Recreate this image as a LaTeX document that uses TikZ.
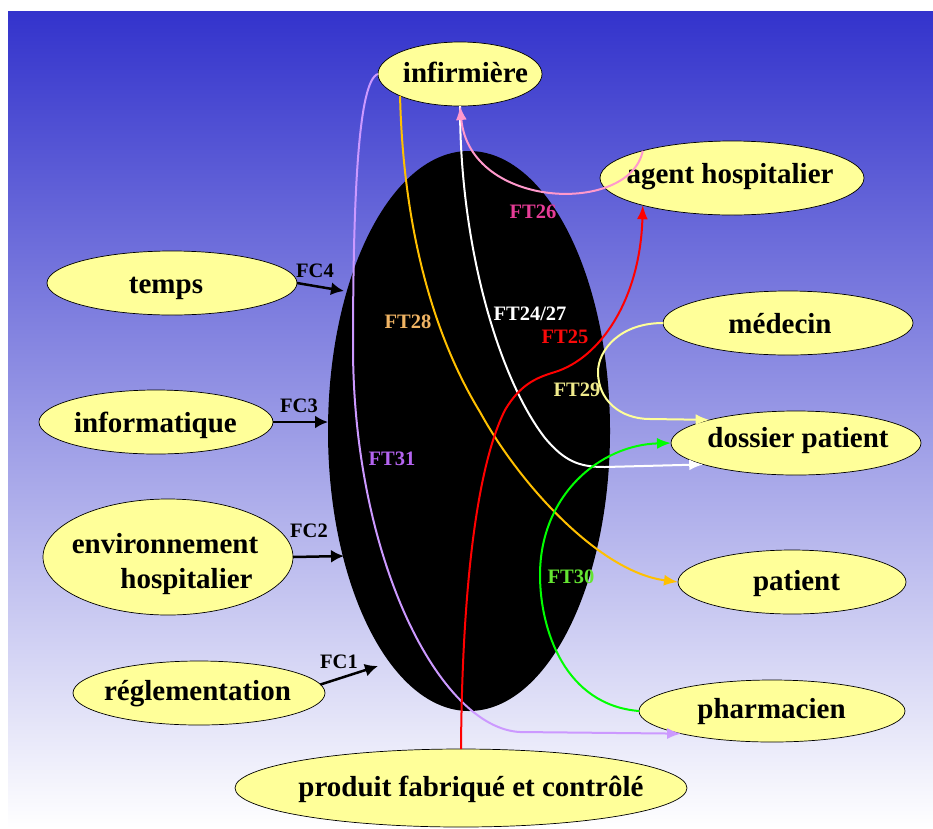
\documentclass[tikz,border=0pt]{standalone}
\usepackage{fontspec}
\setmainfont{Liberation Serif}
\usetikzlibrary{arrows.meta,shapes.geometric}
\definecolor{bubble}{RGB}{255,255,153}
\definecolor{topblue}{RGB}{51,51,204}
\definecolor{lav}{RGB}{204,153,255}
\definecolor{orng}{RGB}{255,192,0}
\definecolor{pinkc}{RGB}{255,153,204}
\definecolor{yelc}{RGB}{255,255,153}
\definecolor{grnc}{RGB}{0,255,0}
\definecolor{lFTtwentysix}{RGB}{230,60,150}
\definecolor{lFTtwentyeight}{RGB}{240,180,100}
\definecolor{lFTtwentyfive}{RGB}{250,10,10}
\definecolor{lFTtwentynine}{RGB}{240,235,140}
\definecolor{lFTthirty}{RGB}{100,230,50}
\definecolor{lFTthirtyone}{RGB}{180,100,240}
\begin{document}
\begin{tikzpicture}[x=1pt,y=-1pt,
  bub/.style={ellipse,draw=black,line width=0.7pt,fill=bubble,inner sep=0pt,outer sep=0pt},
  txt/.style={font=\fontsize{29}{34}\selectfont\bfseries,inner sep=0pt,text height=20pt,text depth=6pt},
  lbl/.style={font=\fontsize{20.5}{24}\selectfont\bfseries,inner sep=0pt,text height=14pt,text depth=4pt},
  fc/.style={line width=2.5pt,-{Latex[length=13pt,width=13pt]}},
  ft/.style={line width=2pt,-{Latex[length=14pt,width=11pt]}}]
\useasboundingbox (0,0) rectangle (933,828);
\shade[top color=topblue,bottom color=white] (8,11) rectangle (933,828);
% central system
\node[fill=black,ellipse,minimum width=282pt,minimum height=560pt,inner sep=0pt] (sys) at (469,431) {};
% bubbles
\node[bub,minimum width=164pt,minimum height=64pt] (inf) at (460,74) {};
\node[bub,minimum width=264pt,minimum height=74pt] (agent) at (732,178) {};
\node[bub,minimum width=250pt,minimum height=64pt] (med) at (788,323) {};
\node[bub,minimum width=250pt,minimum height=64pt] (dos) at (796,443) {};
\node[bub,minimum width=228pt,minimum height=64pt] (pat) at (792,582) {};
\node[bub,minimum width=266pt,minimum height=62pt] (pharm) at (772,711) {};
\node[bub,minimum width=452pt,minimum height=78pt] (prod) at (461,788) {};
\node[bub,minimum width=250pt,minimum height=64pt] (temps) at (172,283) {};
\node[bub,minimum width=234pt,minimum height=64pt] (info) at (156,422) {};
\node[bub,minimum width=250pt,minimum height=116pt] (env) at (168,557) {};
\node[bub,minimum width=252pt,minimum height=64pt] (regl) at (199,693) {};
% bubble texts
\node[txt] (t-inf) at (465.5,75) {infirmière};
\node[txt] (t-agent) at (730,176) {agent hospitalier};
\node[txt] (t-med) at (780,326) {médecin};
\node[txt] (t-dos) at (798,440) {dossier patient};
\node[txt] (t-pat) at (796.5,583) {patient};
\node[txt] (t-pharm) at (771.5,711) {pharmacien};
\node[txt] (t-prod) at (471,789) {produit fabriqué et contrôlé};
\node[txt] (t-temps) at (166,286) {temps};
\node[txt] (t-info) at (155.5,425) {informatique};
\node[txt] (t-env1) at (165,546) {environnement};
\node[txt] (t-env2) at (186.5,581) {hospitalier};
\node[txt] (t-regl) at (197.5,693) {réglementation};
% constraint arrows
\coordinate (c4) at (344,291);
\coordinate (c3) at (328,422);
\coordinate (c2) at (344,556);
\coordinate (c1) at (378,666);
\draw[fc] (temps.east) -- (c4);
\draw[fc] (info.east) -- (c3);
\draw[fc] (env.east) -- (c2);
\draw[fc] (regl.4) -- (c1);
% function curves
\draw[ft,lav] (inf.west) .. controls (358,80) and (353,200) .. (353,350) .. controls (354,560) and (440,728) .. (520,732) -- (pharm.194);
\draw[ft,orng] (inf.200) .. controls (403,220) and (430,330) .. (480,412) .. controls (520,485) and (600,572) .. (pat.west);
\draw[ft,white] (inf.south) .. controls (460,250) and (500,380) .. (545,438) .. controls (565,462) and (580,467) .. (605,467) -- (dos.193);
\draw[ft,pinkc] (agent.163) .. controls (630,215) and (470,210) .. (inf.south);
\draw[ft,red] (prod.north) .. controls (462,600) and (475,470) .. (505,410) .. controls (520,385) and (535,378) .. (555,372) .. controls (600,358) and (640,300) .. (agent.197);
\draw[ft,yelc] (med.west) .. controls (620,323) and (598,350) .. (598,372) .. controls (598,400) and (620,419) .. (650,419) -- (dos.165);
\draw[ft,grnc] (pharm.west) .. controls (565,705) and (540,630) .. (540,575) .. controls (540,495) and (600,445) .. (dos.west);
% labels
\node[lbl] (l-fc4) at (315,272) {FC4};
\node[lbl] (l-fc3) at (299,407) {FC3};
\node[lbl] (l-fc2) at (309,532) {FC2};
\node[lbl] (l-fc1) at (339,663) {FC1};
\node[lbl,text=lFTtwentysix] (l-ft26) at (533,213) {FT26};
\node[lbl,text=lFTtwentyeight] (l-ft28) at (408,323) {FT28};
\node[lbl,text=white] (l-ft2427) at (530,315) {FT24/27};
\node[lbl,text=lFTtwentyfive] (l-ft25) at (565,338) {FT25};
\node[lbl,text=lFTtwentynine] (l-ft29) at (577,391) {FT29};
\node[lbl,text=lFTthirty] (l-ft30) at (571,578) {FT30};
\node[lbl,text=lFTthirtyone] (l-ft31) at (392,460) {FT31};
\end{tikzpicture}
\end{document}
